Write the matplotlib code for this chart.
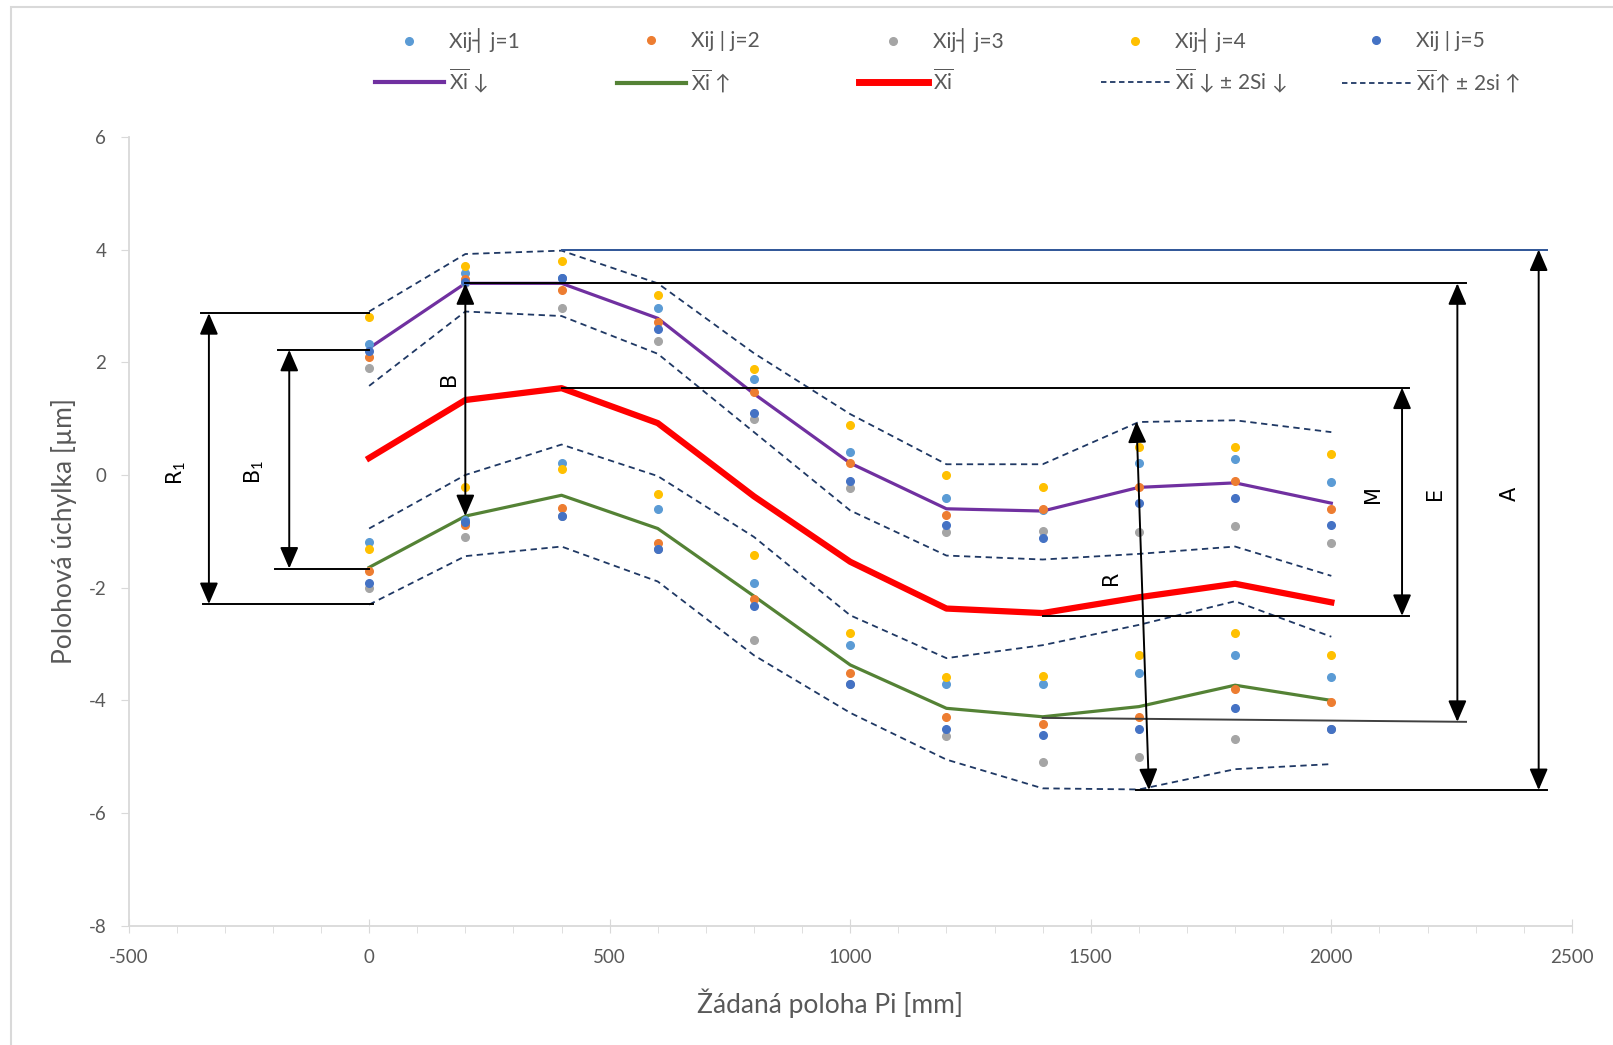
import matplotlib
matplotlib.use("Agg")
import matplotlib.pyplot as plt
from matplotlib.lines import Line2D
from matplotlib.patches import Rectangle
from matplotlib.ticker import MultipleLocator

plt.rcParams['font.family'] = ['Lato', 'DejaVu Sans']
plt.rcParams['mathtext.fontset'] = 'custom'
plt.rcParams['mathtext.rm'] = 'Lato'
plt.rcParams['mathtext.it'] = 'Lato:italic'
plt.rcParams['axes.unicode_minus'] = False

# Zadana poloha Pi [mm]
poloha = [0, 200, 400, 600, 800, 1000, 1200, 1400, 1600, 1800, 2000]

# odchylky - pohyb dolu (horni shluk)
dolu_j1 = [2.32, 3.59, 3.50, 2.97, 1.70, 0.40, -0.40, -0.62, 0.21, 0.28, -0.12]
dolu_j2 = [2.09, 3.48, 3.29, 2.72, 1.48, 0.21, -0.71, -0.61, -0.22, -0.11, -0.61]
dolu_j3 = [1.89, 3.40, 2.97, 2.38, 0.99, -0.23, -1.01, -0.99, -1.01, -0.90, -1.21]
dolu_j4 = [2.80, 3.70, 3.80, 3.19, 1.88, 0.89, 0.00, -0.21, 0.49, 0.49, 0.38]
dolu_j5 = [2.20, 3.42, 3.49, 2.59, 1.10, -0.11, -0.89, -1.11, -0.50, -0.40, -0.89]

# odchylky - pohyb nahoru (dolni shluk)
nahoru_j1 = [-1.19, -0.80, 0.22, -0.61, -1.92, -3.02, -3.70, -3.70, -3.52, -3.20, -3.59]
nahoru_j2 = [-1.70, -0.88, -0.59, -1.20, -2.20, -3.52, -4.30, -4.41, -4.30, -3.80, -4.02]
nahoru_j3 = [-2.00, -1.10, -0.72, -1.32, -2.92, -3.70, -4.64, -5.10, -5.01, -4.69, -4.51]
nahoru_j4 = [-1.31, -0.22, 0.10, -0.33, -1.42, -2.81, -3.59, -3.57, -3.20, -2.81, -3.20]
nahoru_j5 = [-1.91, -0.83, -0.72, -1.32, -2.32, -3.70, -4.51, -4.61, -4.51, -4.13, -4.51]

# prumery
xi_dolu = [2.25, 3.40, 3.40, 2.78, 1.44, 0.21, -0.60, -0.64, -0.22, -0.14, -0.50]
xi_nahoru = [-1.64, -0.73, -0.36, -0.95, -2.15, -3.37, -4.14, -4.29, -4.11, -3.73, -4.00]
xi = [0.30, 1.33, 1.54, 0.92, -0.38, -1.54, -2.37, -2.45, -2.17, -1.93, -2.26]

# meze +- 2s
dolu_plus = [2.90, 3.92, 3.98, 3.40, 2.16, 1.08, 0.19, 0.19, 0.94, 0.97, 0.76]
dolu_minus = [1.58, 2.90, 2.82, 2.15, 0.76, -0.63, -1.43, -1.50, -1.40, -1.27, -1.79]
nahoru_plus = [-0.95, 0.00, 0.54, -0.02, -1.10, -2.49, -3.25, -3.02, -2.66, -2.24, -2.87]
nahoru_minus = [-2.30, -1.44, -1.27, -1.89, -3.20, -4.22, -5.05, -5.56, -5.58, -5.22, -5.13]

barvy_j = ['#5B9BD5', '#ED7D31', '#A5A5A5', '#FFC000', '#4472C4']
popisky_j = ['Xij┤ j=1', 'Xij | j=2', 'Xij┤ j=3', 'Xij┤ j=4', 'Xij | j=5']

fig = plt.figure(figsize=(16.13, 10.45), dpi=100)
ax = fig.add_axes([0.0797, 0.114, 0.8948, 0.7551])

sedy = '#595959'
dolu = [dolu_j1, dolu_j2, dolu_j3, dolu_j4, dolu_j5]
nahoru = [nahoru_j1, nahoru_j2, nahoru_j3, nahoru_j4, nahoru_j5]

# krajni meze
cara = '#1F3864'
for meze in [dolu_plus, dolu_minus, nahoru_plus, nahoru_minus]:
    ax.plot(poloha, meze, color=cara, lw=1.3, ls=(0, (3.5, 2.5)), zorder=2)

ax.plot(poloha, xi_dolu, color='#7030A0', lw=2.3, zorder=3)
ax.plot(poloha, xi_nahoru, color='#548235', lw=2.3, zorder=3)
ax.plot(poloha, xi, color='#FF0000', lw=4.5, zorder=3)

for i in range(5):
    ax.plot(poloha + poloha, dolu[i] + nahoru[i], ls='none', marker='o',
            ms=5.5, color=barvy_j[i], zorder=4)

# kotovani - vodorovne cary
k = dict(color='black', lw=1.4, zorder=5)
ax.plot([-350, 0], [2.87, 2.87], **k)
ax.plot([-345, 8], [-2.29, -2.29], **k)
ax.plot([-190, 0], [2.22, 2.22], **k)
ax.plot([-196, 0], [-1.66, -1.66], **k)
ax.plot([400, 2448], [4.0, 4.0], color='#2F5597', lw=1.4, zorder=5)
ax.plot([1595, 2448], [-5.59, -5.59], **k)
ax.plot([200, 2280], [3.40, 3.40], **k)
ax.plot([1400, 2280], [-4.31, -4.38], color='#404040', lw=1.4, zorder=5)
ax.plot([400, 2162], [1.55, 1.55], **k)
ax.plot([1400, 2162], [-2.50, -2.50], **k)

sipka = dict(arrowstyle='<|-|>,head_length=0.65,head_width=0.28', color='black',
             lw=1.4, mutation_scale=20, shrinkA=0, shrinkB=0)
kotyx = [(-333, 2.87, -333, -2.29), (-166, 2.22, -166, -1.66),
         (200, 3.40, 200, -0.73), (2431, 4.0, 2431, -5.59),
         (2262, 3.40, 2262, -4.38), (2147, 1.55, 2147, -2.50),
         (1595, 0.95, 1621, -5.59)]
for x1, y1, x2, y2 in kotyx:
    ax.annotate('', xy=(x2, y2), xytext=(x1, y1), arrowprops=sipka, zorder=6)

pk = dict(rotation=90, ha='center', va='center', fontsize=15,
          family=['DejaVu Sans'], color='black')
ax.text(-400, 0.03, 'R$_1$', **pk)
ax.text(-238, 0.06, 'B$_1$', **pk)
ax.text(167, 1.71, 'B', **pk)
ax.text(1542, -1.83, 'R', **pk)
ax.text(2087, -0.33, 'M', **pk)
ax.text(2215, -0.33, 'E', **pk)
ax.text(2371, -0.33, 'A', **pk)

ax.set_xlim(-500, 2500)
ax.set_ylim(-8, 6)
ax.xaxis.set_major_locator(MultipleLocator(500))
ax.xaxis.set_minor_locator(MultipleLocator(100))
ax.yaxis.set_major_locator(MultipleLocator(2))
for s in ['top', 'right']:
    ax.spines[s].set_visible(False)
for s in ['left', 'bottom']:
    ax.spines[s].set_color('#D9D9D9')
    ax.spines[s].set_linewidth(1.3)
ax.tick_params(axis='x', which='major', direction='inout', length=10,
               color='#D9D9D9', labelsize=13.5, labelcolor=sedy, pad=12)
ax.tick_params(axis='x', which='minor', direction='out', length=5, color='#D9D9D9')
ax.tick_params(axis='y', direction='out', length=6, color='#D9D9D9',
               labelsize=13.5, labelcolor=sedy, pad=10)
ax.set_xlabel('Žádaná poloha Pi [mm]', fontsize=19, color=sedy, va='center')
ax.set_ylabel('Polohová úchylka [µm]', fontsize=19, color=sedy, va='center')
ax.xaxis.set_label_coords(0.486, -0.098)
ax.yaxis.set_label_coords(-0.045, 0.5)

# legenda - kazda polozka zvlast, at sedi do mrizky
radek2 = [
    (Line2D([], [], color='#7030A0', lw=3), r'$\overline{\mathrm{Xi}}$ ↓'),
    (Line2D([], [], color='#548235', lw=3), r'$\overline{\mathrm{Xi}}$ ↑'),
    (Line2D([], [], color='#FF0000', lw=5), r'$\overline{\mathrm{Xi}}$'),
    (Line2D([], [], color=cara, lw=1.3, ls=(0, (3, 2))), r'$\overline{\mathrm{Xi}}$ ↓ ± 2Si ↓'),
    (Line2D([], [], color=cara, lw=1.3, ls=(0, (3, 2))), r'$\overline{\mathrm{Xi}}$↑ ± 2si ↑'),
]
sloupce_x = [375, 617, 859, 1101, 1342]
radky_y = [41, 81]
for i in range(5):
    h1 = Line2D([], [], ls='none', marker='o', ms=5.5, color=barvy_j[i])
    polozky = [(h1, popisky_j[i]), radek2[i]]
    for r in range(2):
        fig.legend(handles=[polozky[r][0]], labels=[polozky[r][1]],
                   loc='center left',
                   bbox_to_anchor=(sloupce_x[i] / 1613, 1 - radky_y[r] / 1045),
                   frameon=False, fontsize=15, handlelength=3.3, handletextpad=0.25,
                   borderaxespad=0, borderpad=0, labelcolor=sedy)

fig.add_artist(Rectangle((11 / 1613, -0.02), 1.05, 1 - 7 / 1045 + 0.02,
                         transform=fig.transFigure, fill=False,
                         edgecolor='#D9D9D9', lw=1.5))

fig.savefig('out.png', dpi=100)
